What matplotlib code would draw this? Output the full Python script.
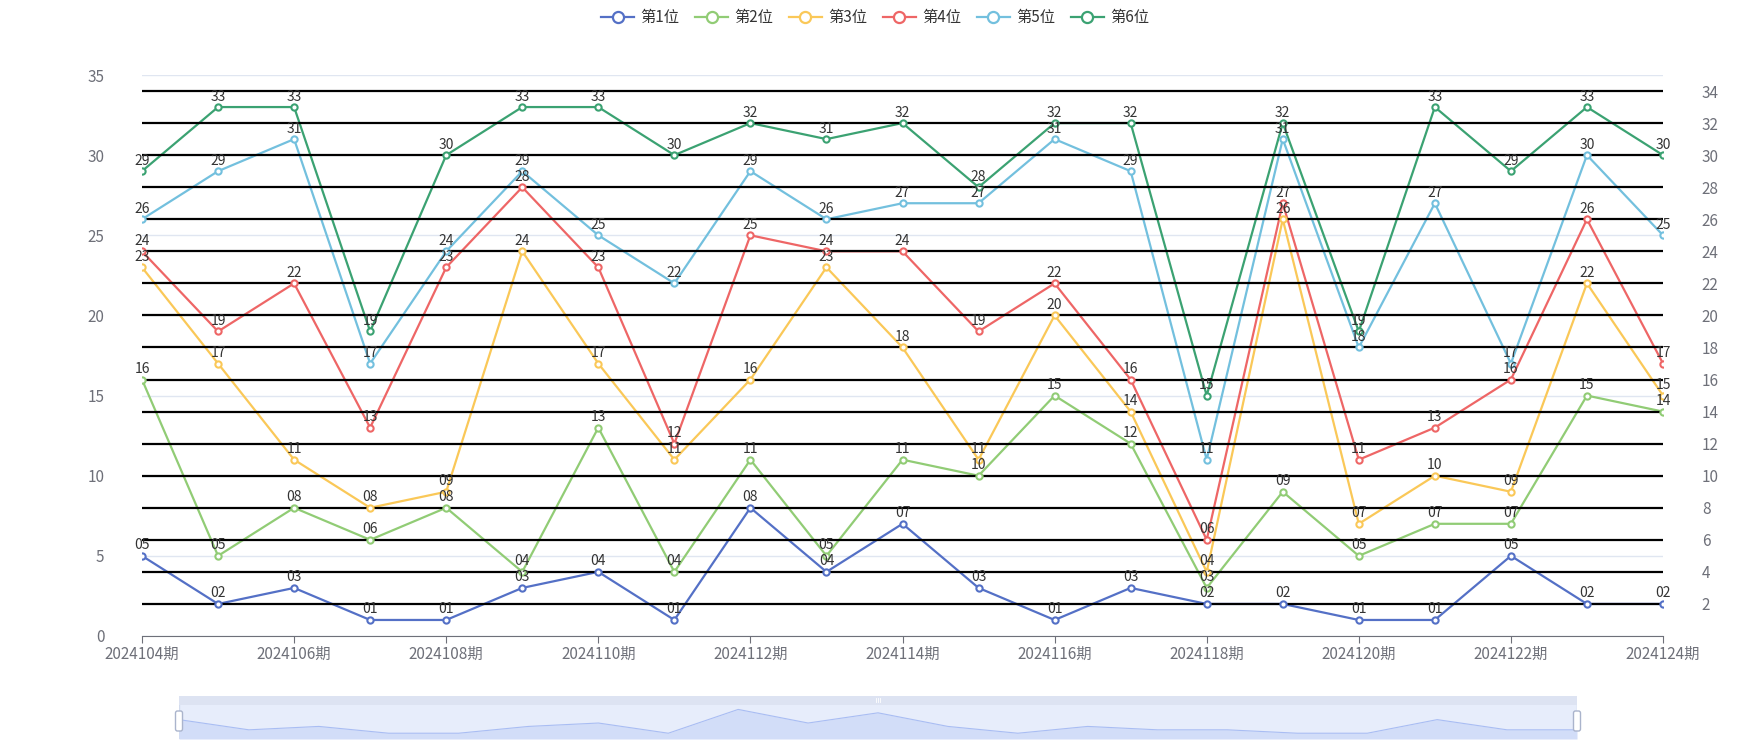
import numpy as np
import matplotlib
matplotlib.use("Agg")
from matplotlib import pyplot as plt
from matplotlib.patches import Rectangle, FancyBboxPatch
from matplotlib.lines import Line2D

plt.rcParams['font.family'] = ['Noto Sans CJK SC', 'DejaVu Sans']
plt.rcParams['axes.unicode_minus'] = False

# 期号
periods = ["20241%02d期" % i for i in range(4, 25)]
names = ["第1位", "第2位", "第3位", "第4位", "第5位", "第6位"]
colors = ["#5470c6", "#91cc75", "#fac858", "#ee6666", "#73c0de", "#3ba272"]

pos1 = [5, 2, 3, 1, 1, 3, 4, 1, 8, 4, 7, 3, 1, 3, 2, 2, 1, 1, 5, 2, 2]
pos2 = [16, 5, 8, 6, 8, 4, 13, 4, 11, 5, 11, 10, 15, 12, 3, 9, 5, 7, 7, 15, 14]
pos3 = [23, 17, 11, 8, 9, 24, 17, 11, 16, 23, 18, 11, 20, 14, 4, 26, 7, 10, 9, 22, 15]
pos4 = [24, 19, 22, 13, 23, 28, 23, 12, 25, 24, 24, 19, 22, 16, 6, 27, 11, 13, 16, 26, 17]
pos5 = [26, 29, 31, 17, 24, 29, 25, 22, 29, 26, 27, 27, 31, 29, 11, 31, 18, 27, 17, 30, 25]
pos6 = [29, 33, 33, 19, 30, 33, 33, 30, 32, 31, 32, 28, 32, 32, 15, 32, 19, 33, 29, 33, 30]
series = [pos1, pos2, pos3, pos4, pos5, pos6]

left_ticks = [0, 5, 10, 15, 20, 25, 30, 35]
right_ticks = list(range(2, 35, 2))

W, H = 1750, 750
fig = plt.figure(figsize=(17.5, 7.5), dpi=100)

def box(x0, y0, x1, y1):
    # pixel box (top-left origin) -> figure fraction
    return [x0 / W, 1 - y1 / H, (x1 - x0) / W, (y1 - y0) / H]

ax = fig.add_axes(box(142, 75, 1663, 636))
ax2 = ax.twinx()
x = np.arange(len(periods))

ax.set_xlim(0, len(periods) - 1)
ax.set_ylim(0, 35)
ax2.set_ylim(0, 35)

ax.set_yticks(left_ticks)
ax.yaxis.grid(True, color="#E0E6F1", lw=1)
ax.set_axisbelow(True)
ax.tick_params(axis='y', length=0, pad=27, labelsize=11, labelcolor="#6E7079")
ax.set_xticks(x[::2])
ax.set_xticklabels(periods[::2])
ax.tick_params(axis='x', length=5, color="#6E7079", labelsize=11, labelcolor="#6E7079", pad=2)
for s in ["top", "right", "left"]:
    ax.spines[s].set_visible(False)
ax.spines["bottom"].set_color("#6E7079")

ax2.set_yticks(right_ticks)
ax2.yaxis.grid(True, color="black", lw=1.6)
ax2.set_axisbelow(True)
ax2.tick_params(axis='y', length=0, pad=28, labelsize=11, labelcolor="#6E7079")
for s in ax2.spines.values():
    s.set_visible(False)

for vals, c in zip(series, colors):
    ax.plot(x, vals, color=c, lw=1.6, zorder=2)
    ax2.plot(x, vals, ls='none', marker='o', ms=4.5, mfc='white', mec=c, mew=1.5, zorder=3)
    for xi, v in zip(x, vals):
        ax2.annotate("%02d" % v, (xi, v), xytext=(0, 2.5), textcoords='offset points',
                     ha='center', va='bottom', fontsize=10, color="#333333", zorder=5)

handles = [Line2D([], [], color=c, lw=1.6, marker='o', ms=8, mfc='white', mec=c, mew=1.6)
           for c in colors]
fig.legend(handles, names, loc='upper center', bbox_to_anchor=(0.5, 1.006), ncol=6,
           frameon=False, fontsize=11, handlelength=2.2, columnspacing=1.0,
           handletextpad=0.4, labelcolor="#333333")

# 底部缩放条
sl_bg = fig.add_axes(box(179, 696, 1577, 739))
sl_bg.set_xlim(0, 1)
sl_bg.set_ylim(0, 1)
sl_bg.axis('off')
sl_bg.add_patch(Rectangle((0, 0), 1, 1, facecolor="#e7edfb", edgecolor="#d2dbee", lw=1))
sl_bg.add_patch(Rectangle((0, 0.79), 1, 0.21, facecolor="#dde3f2", edgecolor='none'))
for dx in (-0.0015, 0, 0.0015):
    sl_bg.plot([0.5 + dx, 0.5 + dx], [0.85, 0.95], color='white', lw=0.6)

sl = fig.add_axes(box(179, 705, 1577, 739))
sl.set_xlim(0, len(periods) - 1)
sl.set_ylim(-0.7, 9.3)
sl.axis('off')
sl.fill_between(x, pos1, -0.7, color="#d2ddf8", lw=0)
sl.plot(x, pos1, color="#a9bdf3", lw=0.8)

sl_h = fig.add_axes(box(170, 696, 1586, 739))
sl_h.set_xlim(170, 1586)
sl_h.set_ylim(739, 696)
sl_h.axis('off')
for hx in (179, 1577):
    sl_h.add_patch(FancyBboxPatch((hx - 3.5, 711), 7, 20, boxstyle="round,pad=0,rounding_size=2",
                                  facecolor='white', edgecolor="#aab4cc", lw=1))

fig.savefig("out.png", dpi=100)
